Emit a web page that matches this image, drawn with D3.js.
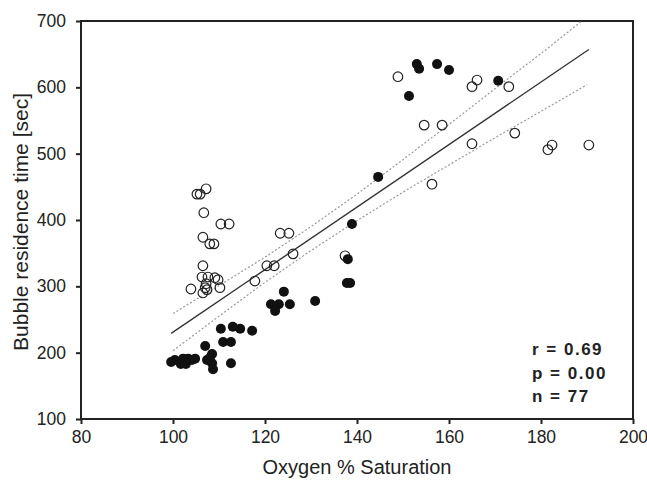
<!DOCTYPE html>
<html>
<head>
<meta charset="utf-8">
<script src="https://cdn.jsdelivr.net/npm/d3@7"></script>
<style>
body { margin: 0; background: #fff; }
text { font-family: "Liberation Sans", Arial, sans-serif; fill: #222; }
</style>
</head>
<body>
<script>
// open circles
const openX = [105.2, 105.9, 107.2, 106.7, 110.4, 112.2, 106.5, 108.0, 108.9, 106.5,
               106.3, 107.6, 109.1, 109.8, 103.9, 107.2, 107.0, 106.5, 110.2, 117.8,
               120.4, 122.0, 123.3, 125.2, 126.1, 137.4, 156.3, 148.9, 166.1, 165.0,
               173.0, 154.6, 158.5, 174.3, 165.0, 181.5, 182.4, 190.4, 107.4];
const openY = [439, 439, 447, 411, 394, 394, 374, 364, 364, 331,
               314, 314, 313, 310, 296, 304, 298, 290, 298, 308,
               331, 331, 380, 380, 349, 346, 454, 616, 611, 601,
               601, 543, 543, 531, 515, 506, 513, 513, 295];

// filled circles
const filledX = [99.6, 100.4, 101.7, 102.2, 103.3, 104.1, 104.8, 107.0, 107.4, 108.5,
                 108.5, 108.7, 110.4, 110.9, 112.6, 113.0, 114.6, 112.6, 117.2, 124.1,
                 121.3, 123.0, 122.2, 125.4, 130.9, 137.8, 138.5, 138.0, 138.9, 144.6,
                 151.3, 153.0, 153.5, 157.4, 160.0, 170.7, 102.8, 108.0];
const filledY = [186, 189, 183, 191, 191, 189, 191, 210, 189, 198,
                 184, 175, 236, 216, 216, 239, 236, 184, 233, 292,
                 273, 273, 263, 273, 278, 305, 305, 341, 394, 465,
                 587, 635, 628, 635, 626, 610, 183, 192];

// regression line and 95% band
const fitX = [99.6, 190.4];
const fitY = [229, 657];
const bandX = [100, 110, 120, 130, 140, 150, 160, 170, 180, 190];
const bandUpper = [259, 301, 344, 390, 439, 491, 544, 598, 651, 706];
const bandLower = [203, 255, 306, 354, 399, 442, 483, 524, 564, 604];

const xTicks = [80, 100, 120, 140, 160, 180, 200];
const yTicks = [100, 200, 300, 400, 500, 600, 700];
const stats = ["r = 0.69", "p = 0.00", "n = 77"];

const margin = {top: 21, right: 14, bottom: 62, left: 81},
      width = 647 - margin.left - margin.right,
      height = 481 - margin.top - margin.bottom;

const svg = d3.select("body").append("svg")
    .attr("width", 647)
    .attr("height", 481);

const g = svg.append("g")
    .attr("transform", `translate(${margin.left},${margin.top})`);

const x = d3.scaleLinear().domain([80, 200]).range([0, width]);
const y = d3.scaleLinear().domain([100, 700]).range([height, 0]);

g.append("clipPath").attr("id", "plot")
  .append("rect").attr("width", width).attr("height", height);

// axes
const xAxis = g.append("g")
    .attr("transform", `translate(0,${height})`)
    .call(d3.axisBottom(x).tickValues(xTicks).tickSize(5).tickSizeOuter(0).tickPadding(7));
const yAxis = g.append("g")
    .call(d3.axisLeft(y).tickValues(yTicks).tickSize(5).tickSizeOuter(0).tickPadding(10));

[xAxis, yAxis].forEach(a => {
  a.select(".domain").remove();
  a.selectAll(".tick line").attr("stroke", "#222").attr("stroke-width", 2);
  a.selectAll(".tick text")
    .attr("font-family", "'Liberation Sans', Arial, sans-serif")
    .attr("font-size", 17.5)
    .attr("fill", "#222");
});

// frame
g.append("rect")
    .attr("width", width)
    .attr("height", height)
    .attr("fill", "none")
    .attr("stroke", "#222")
    .attr("stroke-width", 2);

// confidence band
const band = d3.line().x((d, i) => x(bandX[i])).y(d => y(d));
[bandUpper, bandLower].forEach(b => {
  g.append("path")
    .attr("clip-path", "url(#plot)")
    .attr("d", band(b))
    .attr("fill", "none")
    .attr("stroke", "#999")
    .attr("stroke-width", 1.2)
    .attr("stroke-dasharray", "2,2");
});

// fit line
g.append("path")
    .attr("d", d3.line().x((d, i) => x(fitX[i])).y(d => y(d))(fitY))
    .attr("fill", "none")
    .attr("stroke", "#333")
    .attr("stroke-width", 1.4);

// points
g.selectAll(".open").data(openX).enter().append("circle")
    .attr("class", "open")
    .attr("cx", d => x(d))
    .attr("cy", (d, i) => y(openY[i]))
    .attr("r", 4.8)
    .attr("fill", "none")
    .attr("stroke", "#222")
    .attr("stroke-width", 1.2);

g.selectAll(".filled").data(filledX).enter().append("circle")
    .attr("class", "filled")
    .attr("cx", d => x(d))
    .attr("cy", (d, i) => y(filledY[i]))
    .attr("r", 5)
    .attr("fill", "#111");

// stats
g.selectAll(".stat").data(stats).enter().append("text")
    .attr("class", "stat")
    .attr("x", 451)
    .attr("y", (d, i) => 334 + i * 23.5)
    .attr("font-family", "'DejaVu Sans', Verdana, sans-serif")
    .attr("font-weight", "bold")
    .attr("font-size", 17)
    .attr("letter-spacing", 1.5)
    .style("white-space", "pre")
    .text(d => d);

// axis labels
g.append("text")
    .attr("x", width / 2)
    .attr("y", height + 55)
    .attr("text-anchor", "middle")
    .attr("font-size", 20)
    .text("Oxygen % Saturation");

g.append("text")
    .attr("transform", "rotate(-90)")
    .attr("x", -201)
    .attr("y", -53)
    .attr("text-anchor", "middle")
    .attr("font-size", 21)
    .text("Bubble residence time [sec]");
</script>
</body>
</html>
